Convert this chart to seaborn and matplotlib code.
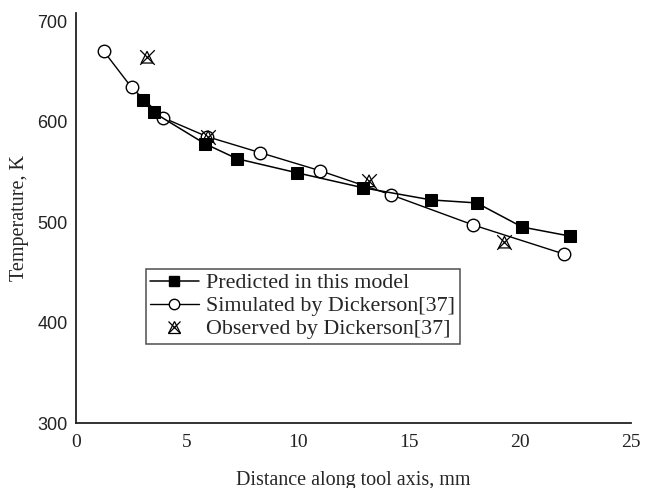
import matplotlib
matplotlib.use("Agg")
import matplotlib.pyplot as plt
import seaborn as sns
import pandas as pd
from matplotlib.lines import Line2D
from matplotlib.legend_handler import HandlerTuple

# Data
pred_x = [3.0, 3.5, 5.8, 7.25, 9.95, 12.95, 16.0, 18.05, 20.1, 22.25]
pred_y = [621, 609, 578, 563, 549, 534, 522, 519, 495, 486]
sim_x = [1.25, 2.5, 3.9, 5.9, 8.3, 11.0, 14.2, 17.9, 22.0]
sim_y = [670, 634, 604, 585, 569, 551, 527, 497, 468]
obs_x = [3.2, 5.95, 13.2, 19.3]
obs_y = [664, 585, 541, 480]

labels = ["Predicted in this model", "Simulated by Dickerson[37]", "Observed by Dickerson[37]"]
xticks = [0, 5, 10, 15, 20, 25]
yticks = [300, 400, 500, 600, 700]

sns.set_theme(style="white")
plt.rcParams["font.family"] = ["Liberation Serif", "DejaVu Serif"]

fig = plt.figure(figsize=(6.45, 4.88), dpi=100)
ax = fig.add_axes([76/645, 1 - 423/488, (631-76)/645, (423-13)/488])

pred_df = pd.DataFrame({"x": pred_x, "y": pred_y})
sim_df = pd.DataFrame({"x": sim_x, "y": sim_y})
obs_df = pd.DataFrame({"x": obs_x, "y": obs_y})

sns.lineplot(data=pred_df, x="x", y="y", ax=ax, color="black", lw=1.1,
             marker="s", markersize=8.5, markerfacecolor="black",
             markeredgecolor="black", sort=False, zorder=3)
sns.lineplot(data=sim_df, x="x", y="y", ax=ax, color="black", lw=1.0,
             marker="o", markersize=9, markerfacecolor="white",
             markeredgecolor="black", markeredgewidth=1.0, sort=False, zorder=2)
sns.scatterplot(data=obs_df, x="x", y="y", ax=ax, marker="^", s=70,
                facecolor="none", edgecolor="black", linewidth=0.9, zorder=4)
sns.scatterplot(data=obs_df, x="x", y="y", ax=ax, marker="x", s=110,
                color="black", linewidth=0.9, zorder=4)

ax.set_xlim(0, 25)
ax.set_ylim(300, 708)
ax.set_xticks(xticks)
ax.set_yticks(yticks)
ax.set_xticklabels([str(v) for v in xticks], fontsize=14, family="Liberation Serif")
ax.set_yticklabels([str(v) for v in yticks], fontsize=13, family="Liberation Sans")
ax.tick_params(direction="in", length=6, width=1.1, colors="#222222")
ax.tick_params(axis="x", pad=8)
ax.tick_params(axis="y", pad=6)
for s in ["top", "right"]:
    ax.spines[s].set_visible(False)
for s in ["left", "bottom"]:
    ax.spines[s].set_color("#222222")
    ax.spines[s].set_linewidth(1.3)

ax.set_xlabel("Distance along tool axis, mm", fontsize=14.5, labelpad=14)
ax.set_ylabel("Temperature, K", fontsize=14.5, labelpad=6)

h1 = Line2D([], [], color="black", lw=1.1, marker="s", markersize=7,
            markerfacecolor="black")
h2 = Line2D([], [], color="black", lw=1.0, marker="o", markersize=7.5,
            markerfacecolor="white", markeredgecolor="black")
h3a = Line2D([], [], ls="none", marker="^", markersize=8,
             markerfacecolor="none", markeredgecolor="black", markeredgewidth=0.9)
h3b = Line2D([], [], ls="none", marker="x", markersize=9,
             color="black", markeredgewidth=0.9)
leg = ax.legend([h1, h2, (h3a, h3b)], labels, loc="lower left",
                bbox_to_anchor=(0.126, 0.193), borderaxespad=0,
                fontsize=15.8, frameon=True, fancybox=False, handlelength=2.2,
                handletextpad=0.35, labelspacing=0.12, borderpad=0.2,
                handler_map={tuple: HandlerTuple(ndivide=1, pad=0)})
leg.get_frame().set_edgecolor("#222222")
leg.get_frame().set_linewidth(1.1)

fig.savefig("out.png", dpi=100)
